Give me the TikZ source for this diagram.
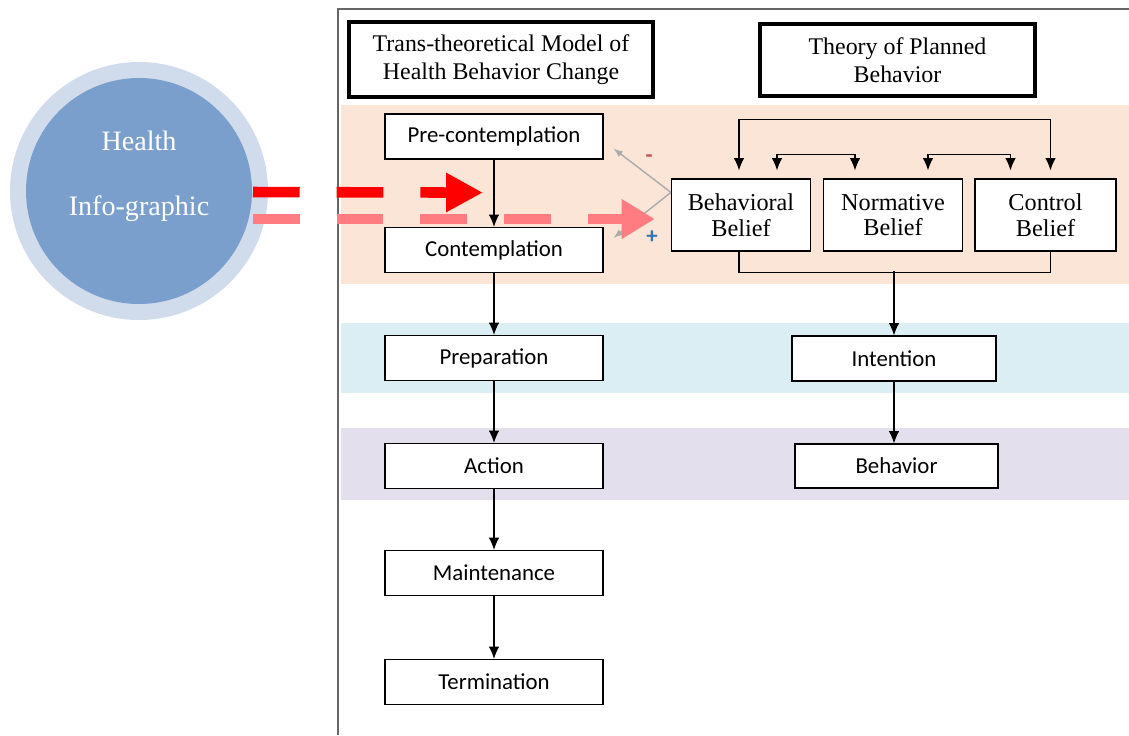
\documentclass[tikz,border=0pt]{standalone}
\usepackage{fontspec}
\setmainfont{Liberation Serif}
\newfontfamily\calib{Carlito}
\usetikzlibrary{calc,arrows.meta}
\definecolor{peach}{RGB}{251,229,214}
\definecolor{iceblue}{RGB}{218,238,243}
\definecolor{lilac}{RGB}{228,223,236}
\definecolor{ringcol}{RGB}{208,219,236}
\definecolor{corecol}{RGB}{122,159,204}
\definecolor{hotred}{RGB}{255,0,0}
\definecolor{softred}{RGB}{255,124,128}
\definecolor{minuscol}{RGB}{192,80,77}
\definecolor{pluscol}{RGB}{46,117,182}
\def\px{0.02cm}

\begin{document}
\begin{tikzpicture}[x=0.02cm,y=-0.02cm]
\tikzstyle{stage}=[draw, fill=white, rectangle, line width=0.7pt, inner sep=0pt, minimum width=218*\px, minimum height=45*\px, font=\calib\fontsize{13}{15}\selectfont]
\tikzstyle{belief}=[draw, fill=white, rectangle, line width=0.7pt, align=center, inner sep=0pt, minimum width=139*\px, minimum height=72*\px, font=\fontsize{13.8}{14.7}\selectfont]
\tikzstyle{title}=[draw, fill=white, line width=2.2pt, align=center, inner sep=0pt, font=\fontsize{13.6}{15.9}\selectfont]
\tikzstyle{flow}=[line width=0.7pt, -{Latex[length=7pt,width=6pt]}]
\tikzstyle{both}=[line width=0.7pt, {Latex[length=7pt,width=6pt]}-{Latex[length=7pt,width=6pt]}]
\tikzstyle{bigarrow}=[line width=6pt, dash pattern=on 26.6pt off 21pt]
\useasboundingbox (0,0) rectangle (1129,735);

% coloured bands
\fill[peach] (341,105) rectangle (1129,284);
\fill[iceblue] (341,323) rectangle (1129,393);
\fill[lilac] (341,428) rectangle (1129,500);
\draw[black!60, line width=1pt] (338,735) -- (338,9) -- (1129,9);

% titles
\node[title, minimum width=304*\px, minimum height=75*\px] (ttm) at (501,59.5) {Trans-theoretical Model of\\Health Behavior Change};
\node[title, minimum width=275*\px, minimum height=72*\px] (tpb) at (897.5,60) {Theory of Planned\\Behavior};

% infographic circle
\node[circle, fill=ringcol, minimum size=258*\px, inner sep=0pt] (ring) at (139,191) {};
\node[circle, fill=corecol, minimum size=226*\px, inner sep=0pt] (info) at (139,191) {};
\node[text=white, align=center, font=\fontsize{16}{37}\selectfont] (infotxt) at ($(info.center)+(0,-15)$) {Health\\Info-graphic};

% stages of change
\node[stage] (pre) at (494,136.5) {Pre-contemplation};
\node[stage] (cont) at (494,250) {Contemplation};
\node[stage] (prep) at (494,358) {Preparation};
\node[stage] (act) at (494,466) {Action};
\node[stage] (maint) at (494,573) {Maintenance};
\node[stage] (term) at (494,682) {Termination};

\draw[flow] (pre) -- (cont);
\draw[flow] (cont) -- (prep);
\draw[flow] (prep) -- (act);
\draw[flow] (act) -- (maint);
\draw[flow] (maint) -- (term);

% planned behavior
\node[belief] (beh) at (741,215) {Behavioral\\Belief};
\node[belief] (norm) at (893,215) {Normative\\Belief};
\node[belief, minimum width=141*\px] (ctrl) at (1045.5,215) {Control\\Belief};
\node[stage, minimum width=204*\px] (intent) at (894,358.5) {Intention};
\node[stage, minimum width=203*\px, minimum height=44*\px] (behav) at (896.5,466) {Behavior};

\draw[both] ($(beh.north)+(-2,-8)$) -- ++(0,-51) -| ($(ctrl.north)+(5,-8)$);
\draw[both] ($(beh.north)+(36,-8)$) -- ++(0,-16) -| ($(norm.north)+(-38,-8)$);
\draw[both] ($(norm.north)+(35,-8)$) -- ++(0,-16) -| ($(ctrl.north)+(-35,-8)$);

\draw[line width=0.7pt] ($(beh.south)+(-2,0)$) -- ++(0,21) -| ($(ctrl.south)+(5,0)$);
\coordinate (join) at ($(intent.north)+(0,-64)$);
\draw[flow] (join) -- (intent.north);
\draw[flow] (intent.south) -- (intent.south |- behav.north);

% belief feedback
\coordinate (fork) at ($(beh.north west)+(0,14)$);
\draw[-latex,black!33,line width=0.8pt] (fork) -- ($(pre.south east)+(10,-11)$);
\draw[-latex,black!33,line width=0.8pt] (fork) -- ($(cont.north east)+(10,11)$);
\node[text=minuscol, font=\calib\bfseries\fontsize{13}{15}\selectfont] (minus) at (649,159) {-};
\node[text=pluscol, font=\calib\bfseries\fontsize{13}{15}\selectfont] (plus) at (652,237) {+};

% infographic arrows
\coordinate (redstart) at ($(info.center)+(114,1)$);
\coordinate (redend) at ($(pre.south)+(-11,33)$);
\coordinate (pinkstart) at ($(info.center)+(114,28)$);
\coordinate (pinkend) at ($(beh.west)+(-16,4)$);
\draw[bigarrow, hotred, -{Triangle[length=21pt,width=21pt]}] (redstart) -- (redend);
\draw[bigarrow, softred, -{Triangle[length=19pt,width=21.5pt]}] (pinkstart) -- (pinkend);

\end{tikzpicture}
\end{document}
